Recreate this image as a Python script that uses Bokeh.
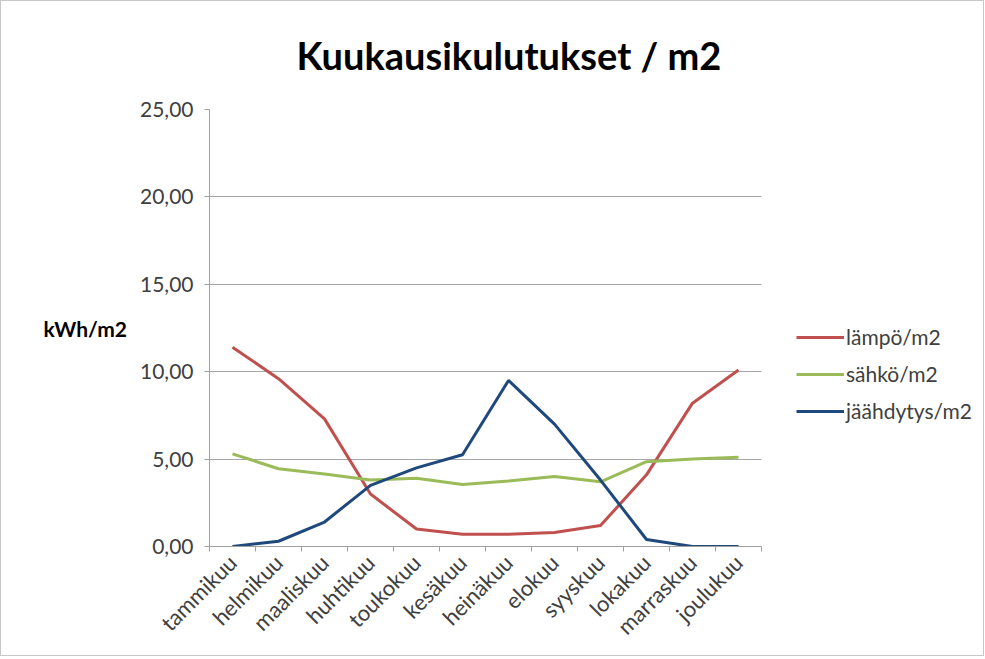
import math
from bokeh.plotting import figure
from bokeh.models import (FixedTicker, Legend, LegendItem, Range1d, ColumnDataSource, Title)
from bokeh.embed import file_html
from bokeh.resources import INLINE

months = ["tammikuu", "helmikuu", "maaliskuu", "huhtikuu", "toukokuu", "kesäkuu",
          "heinäkuu", "elokuu", "syyskuu", "lokakuu", "marraskuu", "joulukuu"]
lampo = [11.4, 9.6, 7.3, 3.0, 1.0, 0.7, 0.7, 0.8, 1.2, 4.1, 8.2, 10.1]
sahko = [5.3, 4.45, 4.15, 3.8, 3.9, 3.55, 3.75, 4.0, 3.7, 4.85, 5.0, 5.1]
jaahdytys = [0.0, 0.3, 1.4, 3.5, 4.5, 5.25, 9.5, 7.0, 3.8, 0.4, 0.0, 0.0]
y_ticks = [0, 5, 10, 15, 20, 25]
y_tick_labels = ["0,00", "5,00", "10,00", "15,00", "20,00", "25,00"]
series_names = ["lämpö/m2", "sähkö/m2", "jäähdytys/m2"]
colors = ["#C0504D", "#9BBB59", "#1F497D"]

FONT = "Lato"
W, H = 984, 656
LEFT, TOP, FRAME_BOTTOM = 208, 107, 545
RIGHT_BORDER = 2
PLOT_W = 552                      # width of the visible plot area (12 categories)
n = len(months)
frame_w = W - LEFT - RIGHT_BORDER
x_end = n * frame_w / PLOT_W      # frame extends to the right to host the legend

xs = [i + 0.5 for i in range(n)]

p = figure(width=W, height=H, output_backend="svg", toolbar_location=None,
           x_range=Range1d(0, x_end), y_range=Range1d(0, 25),
           min_border_left=LEFT, min_border_right=RIGHT_BORDER,
           min_border_top=TOP, min_border_bottom=H - FRAME_BOTTOM,
           background_fill_color="white", border_fill_color="white")
p.outline_line_color = None

rs = []
for vals, c in zip([lampo, sahko, jaahdytys], colors):
    src = ColumnDataSource(dict(x=xs, y=vals))
    rs.append(p.line("x", "y", source=src, line_color=c, line_width=3))

# x axis
p.xaxis.bounds = (0, n)
p.xaxis.ticker = FixedTicker(ticks=xs, minor_ticks=list(range(n + 1)))
p.xaxis.major_label_overrides = {x: m for x, m in zip(xs, months)}
p.xaxis.major_label_orientation = math.pi / 4
p.xaxis.major_tick_line_color = None
p.xaxis.minor_tick_in = 0
p.xaxis.minor_tick_out = 5
p.xaxis.minor_tick_line_color = "#A0A0A0"
p.xaxis.axis_line_color = "#A0A0A0"
p.xaxis.major_label_text_font = FONT
p.xaxis.major_label_text_font_size = "22px"
p.xaxis.major_label_text_color = "#404040"
p.xaxis.major_label_standoff = 6
p.xgrid.grid_line_color = None

# y axis
p.yaxis.ticker = FixedTicker(ticks=y_ticks, minor_ticks=[])
p.yaxis.major_label_overrides = {t: l for t, l in zip(y_ticks, y_tick_labels)}
p.yaxis.major_tick_in = 0
p.yaxis.major_tick_out = 5
p.yaxis.major_tick_line_color = "#A0A0A0"
p.yaxis.axis_line_color = "#A0A0A0"
p.yaxis.major_label_text_font = FONT
p.yaxis.major_label_text_font_size = "21px"
p.yaxis.major_label_text_color = "#404040"
p.yaxis.major_label_standoff = 11
p.yaxis.axis_label = "kWh/m2"
p.yaxis.axis_label_orientation = "horizontal"
p.yaxis.axis_label_standoff = 10
p.yaxis.axis_label_text_font = FONT
p.yaxis.axis_label_text_font_size = "21px"
p.yaxis.axis_label_text_font_style = "bold"
p.yaxis.axis_label_text_color = "#000000"

p.ygrid.grid_line_color = "#A6A6A6"
p.ygrid.grid_line_width = 1
p.ygrid.cross_bounds = (0, n)

# title
p.title = Title(text="Kuukausikulutukset / m2", align="left", offset=87, standoff=60,
                vertical_align="top",
                text_font=FONT, text_font_size="38px", text_font_style="bold",
                text_color="#000000")

legend = Legend(items=[LegendItem(label=s, renderers=[r]) for s, r in zip(series_names, rs)],
                location=(587, 123), orientation="vertical",
                label_text_font=FONT, label_text_font_size="21px", label_text_color="#404040",
                glyph_width=48, glyph_height=20, label_standoff=2, spacing=12,
                label_height=20, padding=0, margin=0, border_line_color=None,
                background_fill_alpha=0)
p.add_layout(legend, "center")

p.styles = {"border": "1px solid #C8C8C8"}

open("out.html", "w").write(file_html(p, INLINE))
